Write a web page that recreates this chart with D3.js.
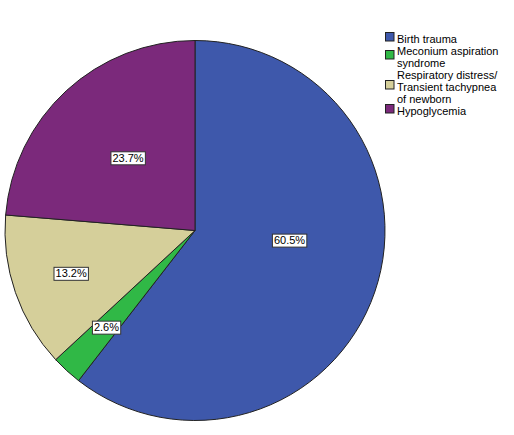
<!DOCTYPE html>
<html>
<head>
<meta charset="utf-8">
<script src="https://cdn.jsdelivr.net/npm/d3@7"></script>
<style>
  body { margin: 0; background: #fff; }
  text { font-family: "Liberation Sans", Arial, sans-serif; }
</style>
</head>
<body>
<svg id="chart"></svg>
<script>
// categories and their share (%)
const categories = [
  "Birth trauma",
  "Meconium aspiration syndrome",
  "Respiratory distress/ Transient tachypnea of newborn",
  "Hypoglycemia"
];
const legendLines = [
  ["Birth trauma"],
  ["Meconium aspiration", "syndrome"],
  ["Respiratory distress/", "Transient tachypnea", "of newborn"],
  ["Hypoglycemia"]
];
const percents = [60.5, 2.6, 13.2, 23.7];
const colors = ["#3e58ab", "#30b846", "#d5cf9a", "#7b297b"];

const width = 514, height = 435;
const cx = 195, cy = 230.5, radius = 190;

const svg = d3.select("#chart")
  .attr("width", width)
  .attr("height", height);

const data = categories.map((c, i) => ({ name: c, value: percents[i], color: colors[i] }));

const pie = d3.pie()
  .sort(null)
  .value(d => d.value);

const arc = d3.arc()
  .innerRadius(0)
  .outerRadius(radius);

const g = svg.append("g")
  .attr("transform", `translate(${cx},${cy})`);

const arcs = pie(data);

g.selectAll("path")
  .data(arcs)
  .enter()
  .append("path")
  .attr("d", arc)
  .attr("fill", d => d.data.color)
  .attr("stroke", "#222")
  .attr("stroke-width", 1);

// labels: big slices nearer the centre, thin ones further out.
// a slice over half the pie gets its label pulled toward the start side
const labelPos = d => {
  const big = d.data.value > 50;
  const r = big ? radius * 0.5 : d.data.value > 20 ? radius * 0.52 : radius * 0.69;
  let a = (d.startAngle + d.endAngle) / 2;
  if (big) a = d.startAngle + (d.endAngle - d.startAngle) * 0.44;
  return [r * Math.sin(a), -r * Math.cos(a)];
};

const labels = g.selectAll("g.lbl")
  .data(arcs)
  .enter()
  .append("g")
  .attr("class", "lbl")
  .attr("transform", d => "translate(" + labelPos(d) + ")");

labels.append("text")
  .attr("text-anchor", "middle")
  .attr("dy", "0.36em")
  .attr("font-size", "11px")
  .attr("fill", "#000")
  .text(d => d.data.value.toFixed(1) + "%");

labels.each(function() {
  const t = d3.select(this).select("text");
  const bb = t.node().getBBox();
  d3.select(this).insert("rect", "text")
    .attr("x", bb.x - 1.5)
    .attr("y", bb.y)
    .attr("width", bb.width + 3)
    .attr("height", bb.height + 1)
    .attr("fill", "#fff")
    .attr("stroke", "#333")
    .attr("stroke-width", 1);
});

// legend
const lineH = 12;
const legend = svg.append("g")
  .attr("transform", "translate(385,43)");

let row = 0;
legendLines.forEach((lines, i) => {
  const item = legend.append("g")
    .attr("transform", `translate(0,${row * lineH})`);
  const mid = (lines.length - 1) * lineH / 2;
  item.append("rect")
    .attr("x", 0.5)
    .attr("y", mid - 10.5)
    .attr("width", 8.5)
    .attr("height", 8.5)
    .attr("fill", colors[i])
    .attr("stroke", "#222")
    .attr("stroke-width", 1);
  item.selectAll("text")
    .data(lines)
    .enter()
    .append("text")
    .attr("x", 12)
    .attr("y", (d, j) => j * lineH)
    .attr("font-size", "11px")
    .attr("fill", "#000")
    .text(d => d);
  row += lines.length;
});
</script>
</body>
</html>
